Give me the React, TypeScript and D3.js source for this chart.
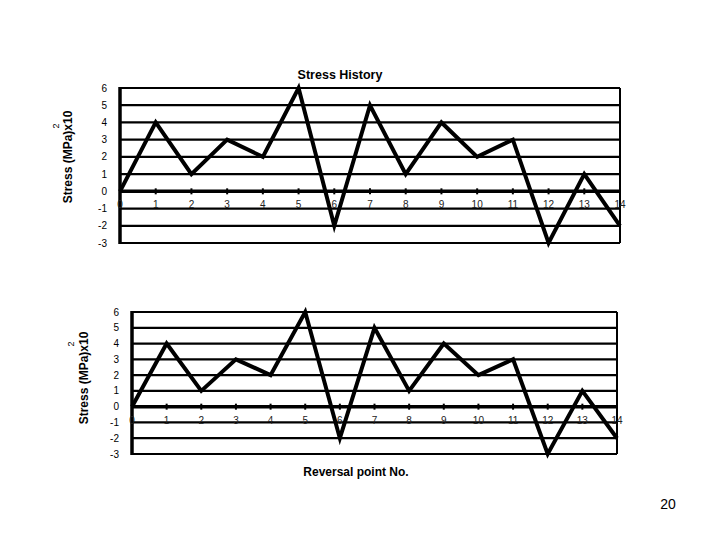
import React from "react";
import * as d3 from "d3";

const reversalPoints = [0, 1, 2, 3, 4, 5, 6, 7, 8, 9, 10, 11, 12, 13, 14];
const stressValues = [0, 4, 1, 3, 2, 6, -2, 5, 1, 4, 2, 3, -3, 1, -2];
const yTicks = [-3, -2, -1, 0, 1, 2, 3, 4, 5, 6];
const titleText = "Stress History";
const yLabelText = "Stress (MPa)x10";
const xLabelText = "Reversal point No.";
const pageNumber = "20";

const FONT = "'Liberation Sans', Arial, sans-serif";

type PanelProps = {
  x0: number; x1: number; yTop: number; yBot: number;
  labelX: number; labelY: number; supX: number; supY: number;
};

function Panel({ x0, x1, yTop, yBot, labelX, labelY, supX, supY }: PanelProps) {
  const x = d3.scaleLinear().domain([0, 14]).range([x0, x1]);
  const y = d3.scaleLinear().domain([-3, 6]).range([yBot, yTop]);
  const line = d3.line<number>().x((_, i) => x(reversalPoints[i])).y((d) => y(d));
  return (
    <g>
      {yTicks.map((t) => (
        <line key={"g" + t} x1={x0} x2={x1} y1={y(t)} y2={y(t)} stroke="#000" strokeWidth={t === 0 ? 3.5 : 2.2} />
      ))}
      <line x1={x1} x2={x1} y1={yTop} y2={yBot} stroke="#000" strokeWidth={2} />
      <line x1={x0} x2={x0} y1={yTop - 1} y2={yBot + 1} stroke="#000" strokeWidth={3.5} />
      {reversalPoints.slice(1).map((p) => (
        <line key={"t" + p} x1={x(p)} x2={x(p)} y1={y(0) - 3} y2={y(0) + 3} stroke="#000" strokeWidth={2} />
      ))}
      {yTicks.map((t) => (
        <text key={"yl" + t} x={x0 - 13} y={y(t)} dy="0.35em" textAnchor="end" fontSize={10} fontFamily={FONT} fill="#000">{t}</text>
      ))}
      {reversalPoints.map((p) => (
        <text key={"xl" + p} x={x(p)} y={y(0) + 17} textAnchor="middle" fontSize={10} fontFamily={FONT} fill="#222">{p}</text>
      ))}
      <path d={line(stressValues) || ""} fill="none" stroke="#000" strokeWidth={4} strokeLinejoin="miter" />
      <text transform={`translate(${labelX},${labelY}) rotate(-90)`} textAnchor="middle" fontSize={12} fontWeight="bold" fontFamily={FONT} dy="0.35em" fill="#000">{yLabelText}</text>
      <text transform={`translate(${supX},${supY}) rotate(-90)`} textAnchor="middle" fontSize={9} fontFamily={FONT} dy="0.35em" fill="#000">2</text>
    </g>
  );
}

export default function App() {
  return (
    <svg width={720} height={540} style={{ position: "absolute", left: 0, top: 0, background: "#fff" }}>
      <rect x={0} y={0} width={720} height={540} fill="#fff" />
      <text x={340} y={79} textAnchor="middle" fontSize={12.5} fontWeight="bold" fontFamily={FONT} fill="#000">{titleText}</text>
      <Panel x0={120} x1={620} yTop={88} yBot={243} labelX={68} labelY={157} supX={56} supY={126} />
      <Panel x0={132} x1={617} yTop={312} yBot={454} labelX={84} labelY={378} supX={71} supY={344} />
      <text x={356} y={476} textAnchor="middle" fontSize={12} fontWeight="bold" fontFamily={FONT} fill="#000">{xLabelText}</text>
      <text x={668} y={509} textAnchor="middle" fontSize={14} fontFamily={FONT} fill="#000">{pageNumber}</text>
    </svg>
  );
}
